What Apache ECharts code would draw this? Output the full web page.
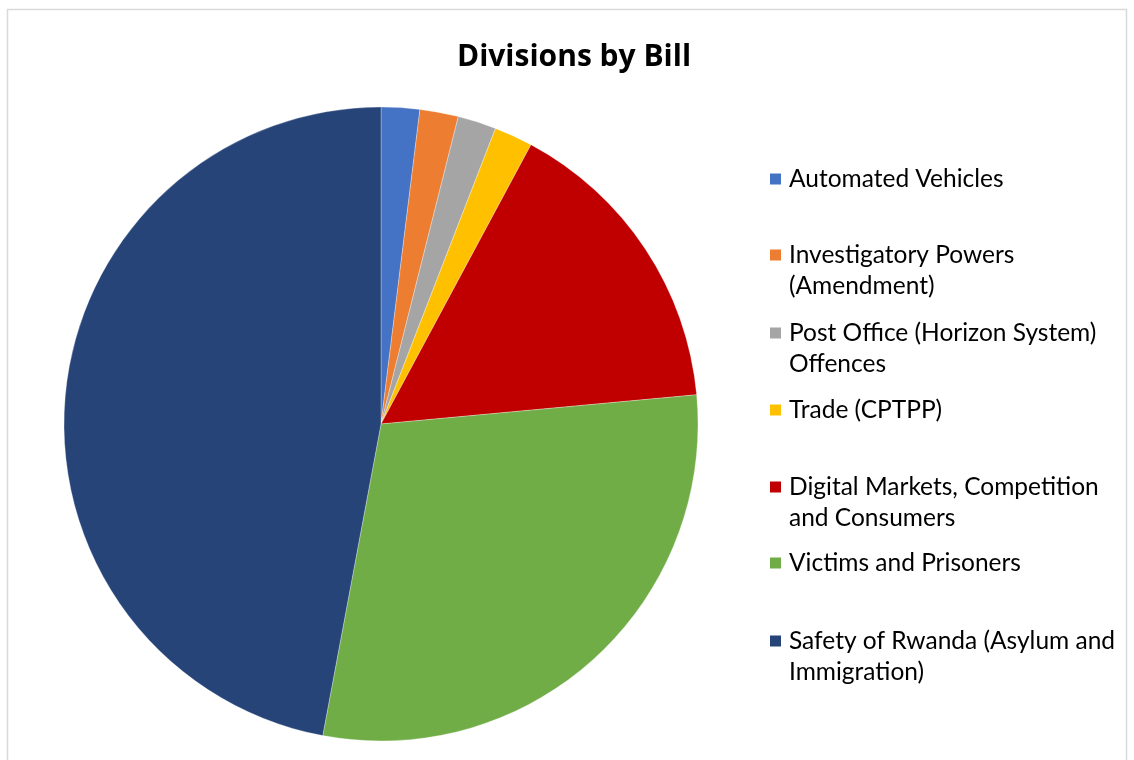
<!DOCTYPE html>
<html><head><meta charset="utf-8">
<script src="https://cdn.jsdelivr.net/npm/echarts@6/dist/echarts.min.js"></script>
<style>html,body{margin:0;padding:0;background:#fff}#c{width:1134px;height:760px}</style>
</head><body><div id="c"></div>
<script>
const categories = ["Automated Vehicles","Investigatory Powers (Amendment)","Post Office (Horizon System) Offences","Trade (CPTPP)","Digital Markets, Competition and Consumers","Victims and Prisoners","Safety of Rwanda (Asylum and Immigration)"];
const legendLabels = ["Automated Vehicles","Investigatory Powers\n(Amendment)","Post Office (Horizon System)\nOffences","Trade (CPTPP)","Digital Markets, Competition\nand Consumers","Victims and Prisoners","Safety of Rwanda (Asylum and\nImmigration)"];
const divisions = [1,1,1,1,8,15,24];
const colors = ["#4472C4","#ED7D31","#A5A5A5","#FFC000","#C00000","#70AD47","#264478"];

const chart = echarts.init(document.getElementById('c'), null, {renderer:'canvas'});
const LH = 31, FS = 24.5;
const markerCenters = [179,255,333,410,487,563,641];
const legends = categories.map((name,i)=>{
  const twoLine = legendLabels[i].indexOf('\n') >= 0;
  const top = twoLine ? markerCenters[i] - 1.5*LH : markerCenters[i] - 0.5*LH;
  return {
    orient:'vertical', left:768, top:top, padding:0,
    data:[{name:name, icon:'rect'}],
    itemWidth:13, itemHeight:13, itemGap:0,
    selectedMode:false,
    formatter: n => twoLine ? '\n' + legendLabels[i] : legendLabels[i],
    textStyle:{fontFamily:'Lato', fontSize:FS, lineHeight:LH, color:'#000', padding:[0,0,0,2]}
  };
});
chart.setOption({
  animation:false,
  color: colors,
  title:{text:'Divisions by Bill', left:569, top:37, textAlign:'center',
    textStyle:{fontFamily:'Open Sans', fontWeight:'bold', fontSize:30, color:'#000'}},
  legend: legends,
  graphic:[{type:'rect', shape:{x:7.5,y:9.5,width:1119,height:780}, style:{fill:'none', stroke:'#d9d9d9', lineWidth:1.5}, z:-1}],
  series:[{
    type:'pie', center:[381,424], radius:317, startAngle:90, clockwise:true,
    label:{show:false}, labelLine:{show:false},
    itemStyle:{borderColor:'#fff', borderWidth:0.3},
    data: categories.map((n,i)=>({name:n, value:divisions[i]}))
  }]
});
</script></body></html>
